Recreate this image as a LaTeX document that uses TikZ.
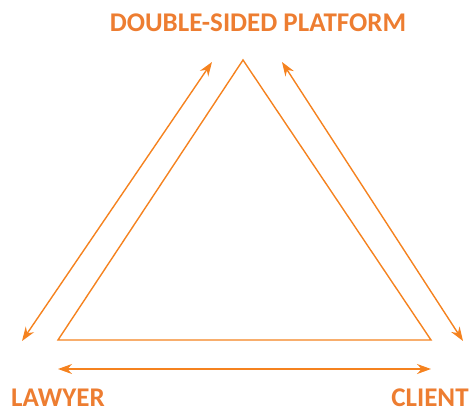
\documentclass[tikz,border=0pt]{standalone}
\usepackage{fontspec}
\setmainfont{Carlito}
\usetikzlibrary{arrows.meta}
\definecolor{orangetext}{HTML}{ED7D31}
\definecolor{orangeline}{HTML}{F5821F}
\tikzset{
  label/.style={text=orangetext,font=\bfseries\fontsize{27}{31}\selectfont,inner sep=0pt},
  side/.style={draw=orangeline,line width=1.4pt},
  link/.style={draw=orangeline,line width=1.4pt,{Stealth[length=14pt,width=10pt]}-{Stealth[length=14pt,width=10pt]}}
}
\begin{document}
\begin{tikzpicture}[x=1pt,y=-1pt]
  \useasboundingbox (0,0) rectangle (470,410);

  \node[label] (platform) at (258,23) {DOUBLE-SIDED PLATFORM};
  \node[label] (lawyer) at (58,398) {LAWYER};
  \node[label] (client) at (430,398) {CLIENT};

  \coordinate (top) at (243,60);
  \coordinate (left) at (58,340);
  \coordinate (right) at (431,340);

  \coordinate (la) at (212,62);
  \coordinate (lb) at (22,341);
  \coordinate (ra) at (282,62);
  \coordinate (rb) at (463,341);
  \coordinate (ba) at (58,369);
  \coordinate (bb) at (431,369);

  \draw[side] (top) -- (left) -- (right) -- cycle;

  \draw[link] (lb) -- (la);
  \draw[link] (ra) -- (rb);
  \draw[link] (ba) -- (bb);
\end{tikzpicture}
\end{document}
